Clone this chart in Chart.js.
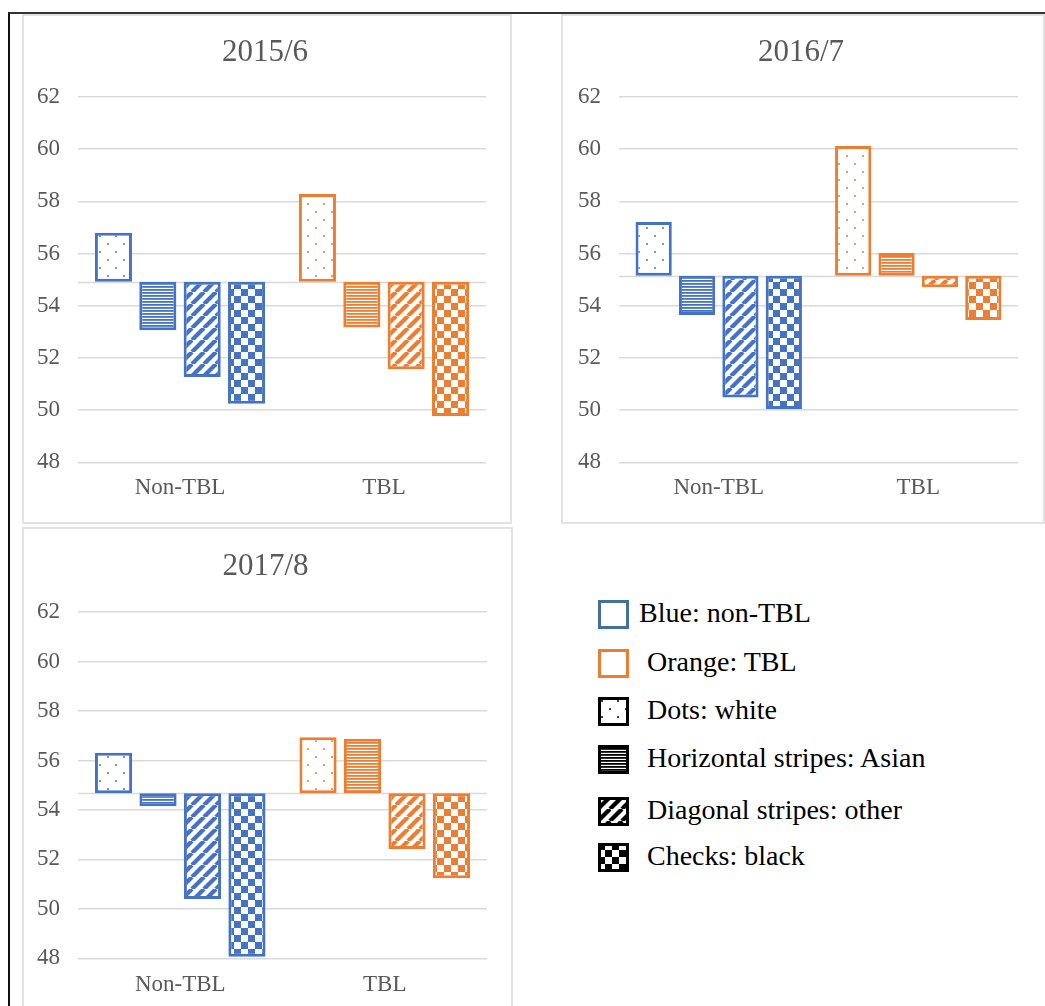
<!DOCTYPE html>
<html>
<head>
<meta charset="utf-8">
<script src="https://cdn.jsdelivr.net/npm/chart.js@4"></script>
<style>
  body { margin: 0; background: #fff; width: 1045px; height: 1006px; overflow: hidden; position: relative; }
  .frame { position: absolute; left: 8px; top: 12px; width: 1100px; height: 1100px; border-left: 2px solid #111; border-top: 2px solid #333; }
  .panel { position: absolute; box-sizing: border-box; border: 2px solid #e2e2e2; background: #fff; }
  .panel canvas { display: block; }
  #legend { position: absolute; left: 598px; top: 600px; font-family: "Liberation Serif", "Times New Roman", serif; font-size: 28px; color: #000; }
  .row { position: absolute; left: 0; white-space: nowrap; height: 30px; }
  .row canvas { position: absolute; left: 0; top: 0; }
  .row span { position: absolute; top: -3px; }
</style>
</head>
<body>
<div class="frame"></div>
<div class="panel" style="left:22px;top:14px;width:490px;height:510px"><canvas id="c1"></canvas></div>
<div class="panel" style="left:561px;top:14px;width:484px;height:510px"><canvas id="c2"></canvas></div>
<div class="panel" style="left:22px;top:527px;width:491px;height:495px"><canvas id="c3"></canvas></div>
<div id="legend"></div>
<script>
// --- data ---
const categories = ['Non-TBL', 'TBL'];
const panelTitles = ['2015/6', '2016/7', '2017/8'];
const axisCross = [54.92, 55.15, 54.67];   // where the category axis crosses
const yTicks = [48, 50, 52, 54, 56, 58, 60, 62];

const whiteVals = [[56.80, 58.28], [57.21, 60.12], [56.31, 56.94]];
const asianVals = [[53.06, 53.17], [53.65, 56.02], [54.15, 56.88]];
const otherVals = [[51.27, 51.57], [50.49, 54.71], [50.40, 52.42]];
const blackVals = [[50.25, 49.78], [50.05, 53.46], [48.07, 51.24]];

const groupLabels = ['Dots: white', 'Horizontal stripes: Asian', 'Diagonal stripes: other', 'Checks: black'];

const BLUE = '#4472C4';
const ORANGE = '#ED7D31';
const TEXT = '#595959';
const GRID = '#d9d9d9';
const SERIF = '"Liberation Serif", "Times New Roman", serif';

// --- patterns ---
function makePattern(kind, color) {
    const c = document.createElement('canvas');
    const g = c.getContext('2d');
    if (kind === 'dots') {
        c.width = 16; c.height = 16;
        g.fillStyle = '#fff'; g.fillRect(0, 0, 16, 16);
        g.fillStyle = color;
        g.beginPath(); g.arc(4, 4, 1, 0, Math.PI * 2); g.fill();
        g.beginPath(); g.arc(12, 12, 1, 0, Math.PI * 2); g.fill();
    } else if (kind === 'hstripes') {
        c.width = 4; c.height = 3;
        g.fillStyle = '#fff'; g.fillRect(0, 0, 4, 3);
        g.fillStyle = color; g.fillRect(0, 0, 4, 1.8);
    } else if (kind === 'diag') {
        c.width = 12; c.height = 12;
        g.fillStyle = '#fff'; g.fillRect(0, 0, 12, 12);
        g.strokeStyle = color; g.lineWidth = 4.2;
        for (const o of [-12, 0, 12]) {
            g.beginPath(); g.moveTo(o, 12); g.lineTo(o + 12, 0); g.stroke();
        }
    } else {
        c.width = 14; c.height = 14;
        g.fillStyle = '#fff'; g.fillRect(0, 0, 14, 14);
        g.fillStyle = color;
        g.fillRect(0, 0, 7, 7); g.fillRect(7, 7, 7, 7);
    }
    return g.createPattern(c, 'repeat');
}

const kinds = ['dots', 'hstripes', 'diag', 'checks'];

// horizontal line at the axis crossing value
const crossLine = {
    id: 'crossLine',
    beforeDatasetsDraw(chart, args, opts) {
        const { ctx, chartArea, scales } = chart;
        const y = Math.round(scales.y.getPixelForValue(opts.value)) + 0.5;
        ctx.save();
        ctx.strokeStyle = GRID;
        ctx.lineWidth = 1.5;
        ctx.beginPath();
        ctx.moveTo(chartArea.left, y);
        ctx.lineTo(chartArea.right, y);
        ctx.stroke();
        ctx.restore();
    }
};

// title centred on the whole panel (like the Excel chart), not on the plot box
const panelTitle = {
    id: 'panelTitle',
    afterDraw(chart, args, opts) {
        const ctx = chart.ctx;
        ctx.save();
        ctx.fillStyle = TEXT;
        ctx.font = '31px ' + SERIF;
        ctx.textAlign = 'center';
        ctx.textBaseline = 'middle';
        ctx.fillText(opts.text, chart.width / 2 - 2, opts.y);
        ctx.restore();
    }
};

const layouts = [
    { padding: { left: -5, right: 24, top: 81, bottom: 8 }, titleY: 36.6, xPad: 12 },
    { padding: { left: -3, right: 25, top: 81, bottom: 8 }, titleY: 36.6, xPad: 12 },
    { padding: { left: -5, right: 24, top: 83, bottom: 8 }, titleY: 37.6, xPad: 13 }
];

function buildChart(id, p) {
    const base = axisCross[p];
    const series = [whiteVals[p], asianVals[p], otherVals[p], blackVals[p]];
    const datasets = series.map((vals, i) => ({
        label: groupLabels[i],
        data: vals.map(v => [base, v]),
        backgroundColor: [makePattern(kinds[i], BLUE), makePattern(kinds[i], ORANGE)],
        borderColor: [BLUE, ORANGE],
        borderWidth: 3,
        borderSkipped: false,
        categoryPercentage: 0.87,
        barPercentage: 0.835
    }));
    const L = layouts[p];
    new Chart(document.getElementById(id), {
        type: 'bar',
        data: { labels: categories, datasets },
        plugins: [crossLine, panelTitle],
        options: {
            responsive: true,
            maintainAspectRatio: false,
            animation: false,
            layout: { padding: L.padding },
            plugins: {
                legend: { display: false },
                tooltip: { enabled: false },
                title: { display: false },
                crossLine: { value: base },
                panelTitle: { text: panelTitles[p], y: L.titleY }
            },
            scales: {
                x: {
                    grid: { display: false, drawTicks: false },
                    border: { display: false },
                    ticks: { color: TEXT, padding: L.xPad, font: { family: SERIF, size: 23, lineHeight: 1.2 } }
                },
                y: {
                    min: yTicks[0],
                    max: yTicks[yTicks.length - 1],
                    afterBuildTicks: (axis) => { axis.ticks = yTicks.map(v => ({ value: v })); },
                    grid: { color: GRID, lineWidth: 1.5, drawTicks: false },
                    border: { display: false },
                    ticks: { color: TEXT, padding: 18, font: { family: SERIF, size: 23, lineHeight: 1.2 } }
                }
            }
        }
    });
}

buildChart('c1', 0);
buildChart('c2', 1);
buildChart('c3', 2);

// --- legend ---
const legendRows = [
    { text: 'Blue: non-TBL', swatch: 'blue', top: 0, textLeft: 41 },
    { text: 'Orange: TBL', swatch: 'orange', top: 49, textLeft: 49 },
    { text: 'Dots: white', swatch: 'dots', top: 97, textLeft: 49 },
    { text: 'Horizontal stripes: Asian', swatch: 'hstripes', top: 145, textLeft: 49 },
    { text: 'Diagonal stripes: other', swatch: 'diag', top: 197, textLeft: 49 },
    { text: 'Checks: black', swatch: 'checks', top: 243, textLeft: 49 }
];

const legendEl = document.getElementById('legend');
legendRows.forEach(r => {
    const row = document.createElement('div');
    row.className = 'row';
    row.style.top = r.top + 'px';
    const sw = document.createElement('canvas');
    sw.width = 31; sw.height = 29;
    const g = sw.getContext('2d');
    if (r.swatch === 'blue' || r.swatch === 'orange') {
        g.strokeStyle = r.swatch === 'blue' ? '#41719C' : ORANGE;
        g.lineWidth = 3;
        g.strokeRect(1.5, 1.5, 28, 26);
    } else {
        g.fillStyle = makePattern(r.swatch, '#000');
        g.fillRect(0, 0, 31, 29);
        g.strokeStyle = '#000';
        g.lineWidth = 3;
        g.strokeRect(1.5, 1.5, 28, 26);
    }
    const sp = document.createElement('span');
    sp.textContent = r.text;
    sp.style.left = r.textLeft + 'px';
    row.appendChild(sw);
    row.appendChild(sp);
    legendEl.appendChild(row);
});
</script>
</body>
</html>
